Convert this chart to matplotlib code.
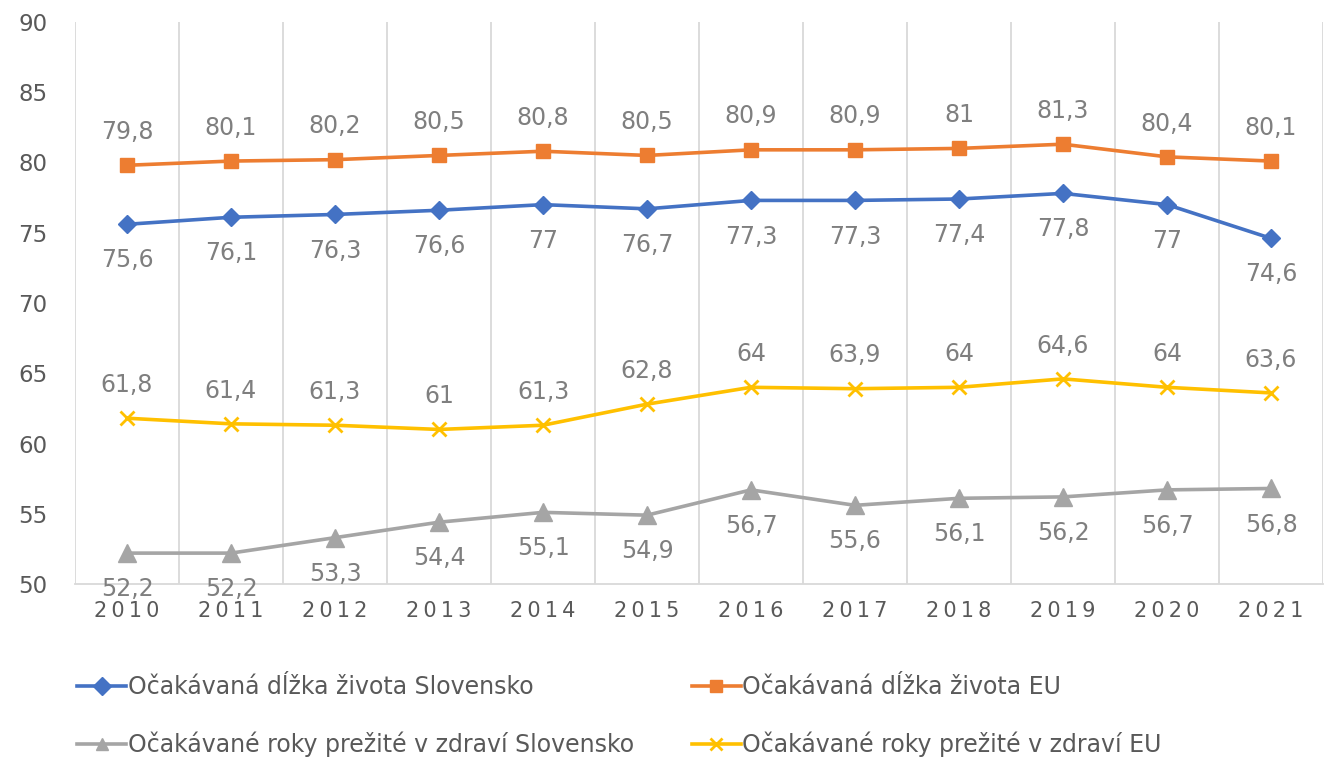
import matplotlib
matplotlib.use("Agg")
import matplotlib.pyplot as plt

years = ["2010", "2011", "2012", "2013", "2014", "2015", "2016", "2017", "2018", "2019", "2020", "2021"]
sk_life = [75.6, 76.1, 76.3, 76.6, 77, 76.7, 77.3, 77.3, 77.4, 77.8, 77, 74.6]
eu_life = [79.8, 80.1, 80.2, 80.5, 80.8, 80.5, 80.9, 80.9, 81, 81.3, 80.4, 80.1]
sk_healthy = [52.2, 52.2, 53.3, 54.4, 55.1, 54.9, 56.7, 55.6, 56.1, 56.2, 56.7, 56.8]
eu_healthy = [61.8, 61.4, 61.3, 61, 61.3, 62.8, 64, 63.9, 64, 64.6, 64, 63.6]

names = ["Očakávaná dĺžka života Slovensko", "Očakávaná dĺžka života EU",
         "Očakávané roky prežité v zdraví Slovensko", "Očakávané roky prežité v zdraví EU"]

plt.rcParams['font.family'] = ['DejaVu Sans']

fig = plt.figure(figsize=(13.25, 7.57), dpi=100)
ax = fig.add_axes([0.0566, 0.2285, 0.9419, 0.7425])

x = list(range(len(years)))
series = [
    (sk_life, "#4472C4", "D", 9, -1),
    (eu_life, "#ED7D31", "s", 10.5, 1),
    (sk_healthy, "#A5A5A5", "^", 12.5, -1),
    (eu_healthy, "#FFC000", "x", 10, 1),
]
handles = []
for (vals, col, mk, ms, side), name in zip(series, names):
    mew = 2 if mk == "x" else 1
    ln, = ax.plot(x, vals, color=col, lw=2.6, marker=mk, markersize=ms,
                  markeredgewidth=mew, markeredgecolor=col, markerfacecolor=col,
                  label=name, zorder=3, clip_on=False)
    handles.append(ln)
    off = 26 if side < 0 else 24
    for xi, v in zip(x, vals):
        lbl = f"{v:g}".replace(".", ",")
        ax.annotate(lbl, (xi, v), xytext=(0, off * side), textcoords="offset points",
                    ha="center", va="center", fontsize=17, color="#7F7F7F", zorder=4)

ax.set_xlim(-0.5, len(years) - 0.5)
ax.set_ylim(50, 90)
ax.set_yticks(range(50, 91, 5))
ax.set_xticks(x)
ax.set_xticklabels(["\u2009".join(list(y)) for y in years])
ax.tick_params(axis="x", length=0, labelsize=15, labelcolor="#595959", pad=12)
ax.tick_params(axis="y", length=0, labelsize=16.5, labelcolor="#595959", pad=20)

for b in [i - 0.5 for i in range(len(years) + 1)]:
    ax.axvline(b, color="#D9D9D9", lw=1.3, zorder=1)
for s in ["top", "right", "left"]:
    ax.spines[s].set_visible(False)
ax.spines["bottom"].set_color("#D9D9D9")
ax.spines["bottom"].set_linewidth(1.3)

leg = fig.legend(handles=[handles[0], handles[2], handles[1], handles[3]],
                 loc="center left", bbox_to_anchor=(0.058, 0.054), ncol=2,
                 frameon=False, fontsize=17, labelcolor="#595959",
                 handlelength=2.1, handletextpad=0.05, columnspacing=2.45,
                 labelspacing=1.4, borderpad=0, borderaxespad=0)
for h in leg.legend_handles:
    h.set_markersize(9)

fig.savefig("out.png", dpi=100)
